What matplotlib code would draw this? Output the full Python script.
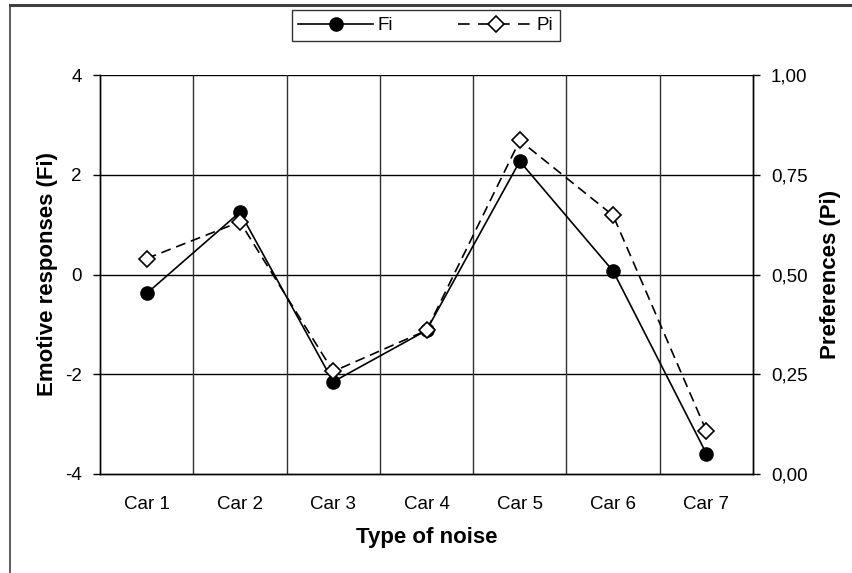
import matplotlib
matplotlib.use("Agg")
import matplotlib.pyplot as plt
from matplotlib.lines import Line2D
from matplotlib.ticker import FuncFormatter
import numpy as np

plt.rcParams['font.family'] = ['Liberation Sans', 'DejaVu Sans']
plt.rcParams['axes.unicode_minus'] = False

# data
categorias = ["Car 1", "Car 2", "Car 3", "Car 4", "Car 5", "Car 6", "Car 7"]
fi_valores = [-0.38, 1.25, -2.15, -1.12, 2.27, 0.07, -3.59]
pi_valores = [0.54, 0.632, 0.257, 0.36, 0.836, 0.648, 0.108]

fig = plt.figure(figsize=(8.52, 5.73), dpi=100)
ax = fig.add_axes([100 / 852, 1 - 474 / 573, 653 / 852, 399 / 573])
ax2 = ax.twinx()

x = np.arange(len(categorias))

# Fi on the left axis
ax.plot(x, fi_valores, color='black', linewidth=1.2, marker='o',
        markersize=9.5, markerfacecolor='black', label='Fi', zorder=4)
# Pi on the right axis
ax2.plot(x, pi_valores, color='black', linewidth=1.2, linestyle=(0, (6, 3.5)),
         marker='D', markersize=8.5, markerfacecolor='white',
         markeredgecolor='black', markeredgewidth=1.2, label='Pi', zorder=4)

ax.set_xlim(-0.5, len(categorias) - 0.5)
ax.set_ylim(-4, 4)
ax2.set_ylim(0, 1)

ax.set_yticks([-4, -2, 0, 2, 4])
ax2.set_yticks([0, 0.25, 0.5, 0.75, 1.0])
ax2.yaxis.set_major_formatter(FuncFormatter(lambda v, p: f"{v:.2f}".replace('.', ',')))

ax.set_xticks(x)
ax.set_xticklabels(categorias)
ax.tick_params(axis='x', length=0, pad=16, labelsize=13.5)
ax.tick_params(axis='y', length=5, width=1, pad=8, labelsize=13.5, direction='out')
ax2.tick_params(axis='y', length=5, width=1, pad=8, labelsize=13.5, direction='out')

# grid: horizontal at major ticks, vertical at category boundaries
for yv in [-2, 0, 2, 4]:
    ax.axhline(yv, color='black', linewidth=1, zorder=1)
for xv in np.arange(0.5, len(categorias) - 0.5, 1):
    ax.axvline(xv, color='#303030', linewidth=1, zorder=1)

for lado in ['top', 'right', 'left', 'bottom']:
    ax.spines[lado].set_linewidth(1)
    ax2.spines[lado].set_linewidth(1)
ax.spines['top'].set_visible(False)
ax2.spines['top'].set_visible(False)

ax.set_xlabel("Type of noise", fontsize=16, fontweight='bold', labelpad=10)
ax.set_ylabel("Emotive responses (Fi)", fontsize=16, fontweight='bold', labelpad=5)
ax2.set_ylabel("Preferences (Pi)", fontsize=16, fontweight='bold', labelpad=9)

# legend at the top
h1, l1 = ax.get_legend_handles_labels()
h2, l2 = ax2.get_legend_handles_labels()
leg = fig.legend(h1 + h2, l1 + l2, loc='center', ncol=2,
                 bbox_to_anchor=(426 / 852, 1 - 25.5 / 573),
                 frameon=True, fancybox=False, edgecolor='black',
                 fontsize=13.5, handlelength=4, columnspacing=3.5,
                 handletextpad=0.2, borderpad=0.35, borderaxespad=0)
leg.get_frame().set_linewidth(1)
# legend dash for Pi drawn as short dashes either side of the diamond
leg.get_lines()[1].set_linestyle((0, (7, 5)))

# chart area border (top and left visible in the reference)
fig.add_artist(Line2D([10 / 852, 1], [1 - 5 / 573, 1 - 5 / 573],
                      transform=fig.transFigure, color='#404040', linewidth=2.2))
fig.add_artist(Line2D([10 / 852, 10 / 852], [0, 1 - 5 / 573],
                      transform=fig.transFigure, color='#404040', linewidth=1.2))

fig.savefig("out.png", dpi=100)
